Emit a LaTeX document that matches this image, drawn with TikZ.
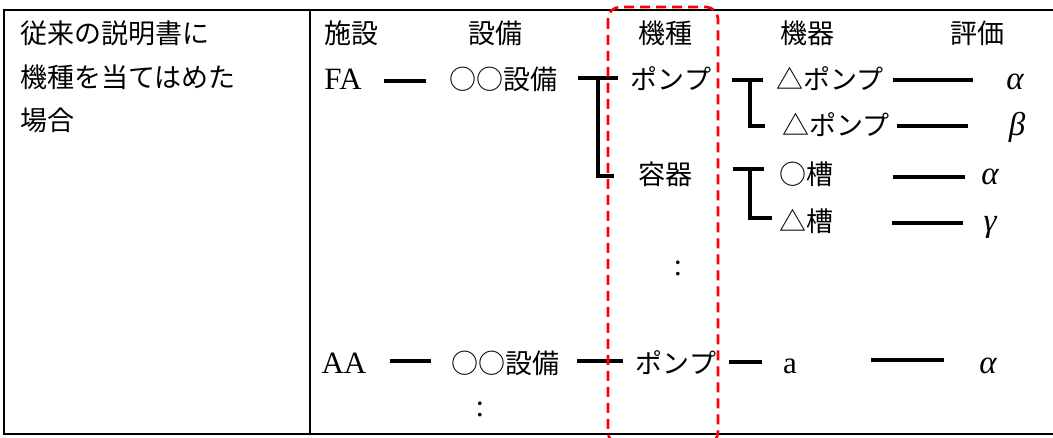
\documentclass[tikz,border=0pt]{standalone}
\usepackage{fontspec}
\setmainfont{Liberation Serif}
\newfontfamily\jp{Noto Sans CJK JP}
\begin{document}
\begin{tikzpicture}[x=1pt,y=-1pt,
  txt/.style={inner sep=0pt,anchor=base,font=\fontsize{27}{32}\selectfont\jp},
  lat/.style={inner sep=0pt,anchor=base,font=\fontsize{31}{36}\selectfont},
  grk/.style={inner sep=0pt,anchor=base,font=\fontsize{33}{38}\selectfont\itshape},
  lft/.style={txt,anchor=base west},
  frame/.style={line width=2pt,black},
  conn/.style={line width=4pt,black},
  sel/.style={red,line width=2.6pt,dash pattern=on 10pt off 6pt,rounded corners=12pt}]
\useasboundingbox (0,0) rectangle (1053,438);
\clip (0,0) rectangle (1053,438);
\fill[white] (0,0) rectangle (1053,438);
% table frame
\draw[frame] (1053,10) coordinate (tr) -- (4,10) coordinate (tl) -- (4,434) coordinate (bl) -- (1053,434) coordinate (br);
\draw[frame] (310,10) coordinate (dt) -- (310,434) coordinate (db);
% left cell
\node[lft] (l1) at (20,44) {従来の説明書に};
\node[lft] (l2) at (20,88) {機種を当てはめた};
\node[lft] (l3) at (20,131) {場合};
% headers
\node[txt] (h1) at (351,44) {施設};
\node[txt] (h2) at (495,44) {設備};
\node[txt] (h3) at (665,44) {機種};
\node[txt] (h4) at (807,44) {機器};
\node[txt] (h5) at (977,44) {評価};
% row FA
\node[lat] (fa) at (343,90) {FA};
\node[txt] (fs) at (503,90) {○○設備};
\node[txt] (fp) at (671,90) {ポンプ};
\node[txt] (d1) at (830,90) {△ポンプ};
\node[grk] (e1) at (1015,90) {α};
\node[txt] (d2) at (836,136) {△ポンプ};
\node[grk] (e2) at (1017,136) {β};
\node[txt] (fy) at (665,185) {容器};
\node[txt] (d3) at (806,185) {○槽};
\node[grk] (e3) at (990,185) {α};
\node[txt] (d4) at (806,232) {△槽};
\node[grk] (e4) at (990,232) {γ};
\node[lat,anchor=center] (c1) at (678,268) {:};
% row AA
\node[lat] (aa) at (344,374) {AA};
\node[txt] (as) at (505,374) {○○設備};
\node[txt] (ap) at (676,374) {ポンプ};
\node[lat] (ad) at (790,374) {a};
\node[grk] (ae) at (988,374) {α};
\node[lat,anchor=center] (c2) at (480,409) {:};
% connectors
\draw[conn] (384,81) coordinate (fa1) -- (426,81) coordinate (fa2);
\draw[conn] (578,78) coordinate (t1a) -- (618,78) coordinate (t1b);
\draw[conn] (598,78) coordinate (t1c) -- (598,176) coordinate (t1d) -- (614,176) coordinate (t1e);
\draw[conn] (732,80) coordinate (t2a) -- (763,80) coordinate (t2b);
\draw[conn] (750,80) coordinate (t2c) -- (750,126) coordinate (t2d) -- (765,126) coordinate (t2e);
\draw[conn] (893,80) coordinate (g1a) -- (973,80) coordinate (g1b);
\draw[conn] (897,126) coordinate (g2a) -- (968,126) coordinate (g2b);
\draw[conn] (733,169) coordinate (t3a) -- (764,169) coordinate (t3b);
\draw[conn] (750,169) coordinate (t3c) -- (750,218) coordinate (t3d) -- (772,218) coordinate (t3e);
\draw[conn] (893,177) coordinate (g3a) -- (965,177) coordinate (g3b);
\draw[conn] (892,223) coordinate (g4a) -- (963,223) coordinate (g4b);
\draw[conn] (390,361) coordinate (aa1) -- (431,361) coordinate (aa2);
\draw[conn] (577,361) coordinate (as1) -- (623,361) coordinate (as2);
\draw[conn] (729,362) coordinate (ap1) -- (762,362) coordinate (ap2);
\draw[conn] (871,360) coordinate (ad1) -- (944,360) coordinate (ad2);
% highlighted column
\draw[sel] (608,7) coordinate (s1) rectangle (718,444) coordinate (s2);
\end{tikzpicture}
\end{document}
